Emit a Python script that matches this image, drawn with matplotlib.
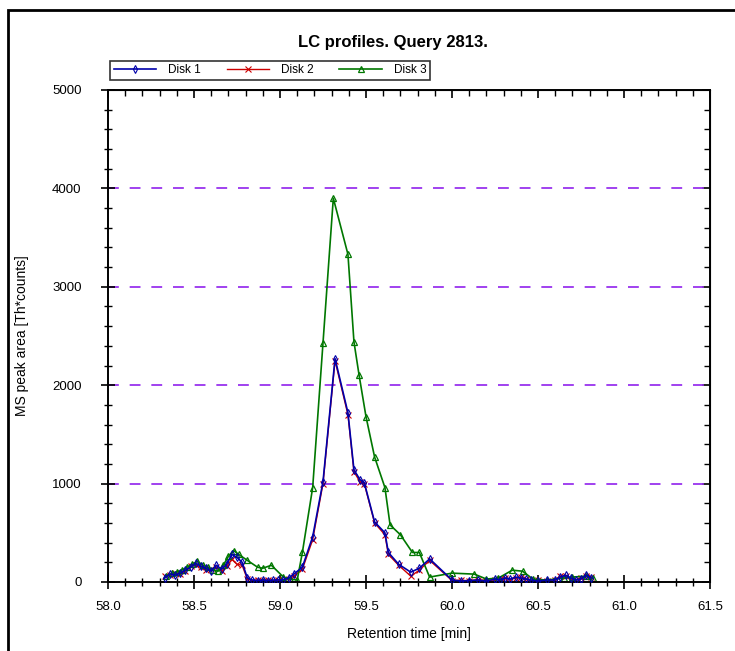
import matplotlib
matplotlib.use("Agg")
import matplotlib.pyplot as plt
from matplotlib.patches import Rectangle
from matplotlib.ticker import MultipleLocator, FormatStrFormatter

plt.rcParams['font.family'] = ['Liberation Sans', 'DejaVu Sans']

# Disk 1 (blue)
disk1_x = [58.33, 58.36, 58.39, 58.42, 58.45, 58.48, 58.51, 58.54, 58.57, 58.60,
           58.63, 58.66, 58.69, 58.72, 58.75, 58.78, 58.81, 58.84, 58.87, 58.90,
           58.93, 58.96, 58.99, 59.02, 59.05, 59.08, 59.13, 59.19, 59.25, 59.32,
           59.395, 59.43, 59.465, 59.49, 59.55, 59.61, 59.63, 59.69, 59.76, 59.81,
           59.87, 60.00, 60.05, 60.10, 60.15, 60.20, 60.25, 60.28, 60.31, 60.34,
           60.37, 60.40, 60.43, 60.46, 60.50, 60.55, 60.60, 60.63, 60.66, 60.69,
           60.72, 60.75, 60.78, 60.81]
disk1_y = [40, 80, 70, 90, 120, 150, 190, 160, 140, 110,
           170, 130, 180, 280, 250, 200, 40, 20, 15, 20,
           15, 20, 20, 25, 40, 80, 150, 460, 1020, 2270,
           1720, 1140, 1040, 1010, 610, 500, 300, 180, 100, 140,
           235, 20, 10, 15, 20, 10, 30, 20, 40, 30,
           50, 40, 30, 20, 10, 20, 20, 50, 70, 40,
           20, 30, 70, 40]

# Disk 2 (red)
disk2_x = disk1_x
disk2_y = [60, 70, 90, 80, 110, 160, 170, 150, 120, 130,
           150, 110, 160, 230, 180, 170, 30, 15, 20, 15,
           20, 15, 25, 20, 30, 60, 130, 430, 1000, 2250,
           1700, 1120, 1020, 1000, 600, 480, 280, 170, 60, 120,
           220, 15, 20, 10, 25, 15, 20, 30, 40, 25,
           40, 50, 30, 15, 20, 15, 25, 60, 60, 30,
           25, 40, 60, 50]

# Disk 3 (green)
disk3_x = [58.34, 58.37, 58.40, 58.43, 58.46, 58.49, 58.52, 58.55, 58.58, 58.61,
           58.64, 58.67, 58.70, 58.73, 58.76, 58.81, 58.87, 58.90, 58.95, 59.02,
           59.06, 59.10, 59.13, 59.19, 59.25, 59.31, 59.395, 59.43, 59.46, 59.50,
           59.55, 59.61, 59.64, 59.70, 59.77, 59.81, 59.87, 60.00, 60.13, 60.20,
           60.27, 60.35, 60.41, 60.47, 60.55, 60.65, 60.70, 60.78, 60.82]
disk3_y = [60, 90, 100, 120, 150, 180, 210, 170, 150, 120,
           110, 170, 260, 320, 280, 220, 150, 140, 170, 50,
           30, 20, 300, 960, 2430, 3900, 3330, 2440, 2100, 1680,
           1270, 960, 580, 480, 300, 300, 50, 90, 80, 30,
           40, 120, 110, 30, 20, 40, 50, 60, 40]

grid_levels = [1000, 2000, 3000, 4000]

fig = plt.figure(figsize=(7.35, 6.51), dpi=100)
fig.patch.set_facecolor('white')
ax = fig.add_axes([108 / 735, 1 - 582 / 651, 602 / 735, 492 / 651])

for g in grid_levels:
    ax.axhline(g, color='#9933ee', lw=1.3, dashes=(6, 6), zorder=1)

ax.plot(disk1_x, disk1_y, color='#0000aa', lw=1.2, marker='d', ms=4,
        mfc='none', mew=0.8, label='Disk 1', zorder=3)
ax.plot(disk2_x, disk2_y, color='#cc0000', lw=1.0, marker='x', ms=4,
        mew=0.8, label='Disk 2', zorder=2)
ax.plot(disk3_x, disk3_y, color='#007700', lw=1.2, marker='^', ms=4.5,
        mfc='none', mew=0.9, label='Disk 3', zorder=2)

ax.set_xlim(58.0, 61.5)
ax.set_ylim(0, 5000)
ax.xaxis.set_major_locator(MultipleLocator(0.5))
ax.xaxis.set_minor_locator(MultipleLocator(0.1))
ax.xaxis.set_major_formatter(FormatStrFormatter('%.1f'))
ax.yaxis.set_major_locator(MultipleLocator(1000))
ax.yaxis.set_minor_locator(MultipleLocator(200))
ax.tick_params(which='major', direction='inout', length=10, width=1.2,
               labelsize=9.5)
ax.tick_params(axis='x', which='major', pad=9)
ax.tick_params(axis='y', which='major', pad=14)
ax.tick_params(which='minor', direction='inout', length=6, width=1.0)
for sp in ax.spines.values():
    sp.set_linewidth(1.4)

top = ax.secondary_xaxis('top')
top.xaxis.set_major_locator(MultipleLocator(0.5))
top.xaxis.set_minor_locator(MultipleLocator(0.1))
top.tick_params(which='major', direction='in', length=6, width=1.2, labeltop=False)
top.tick_params(which='minor', direction='in', length=4, width=1.0)
right = ax.secondary_yaxis('right')
right.yaxis.set_major_locator(MultipleLocator(1000))
right.yaxis.set_minor_locator(MultipleLocator(200))
right.tick_params(which='major', direction='in', length=6, width=1.2, labelright=False)
right.tick_params(which='minor', direction='in', length=4, width=1.0)

ax.set_xlabel('Retention time [min]', fontsize=10, labelpad=10)
ax.set_ylabel('MS peak area [Th*counts]', fontsize=10, va='center')
ax.yaxis.set_label_coords((22 - 108) / 602, 0.5)

fig.text(393 / 735, 1 - 42 / 651, 'LC profiles. Query 2813.', ha='center',
         va='center', fontsize=12, fontweight='bold')

leg = ax.legend(loc='lower left', bbox_to_anchor=(110 / 735, 1 - 80 / 651),
                bbox_transform=fig.transFigure, ncol=3, fontsize=8.5,
                frameon=True, fancybox=False, edgecolor='black',
                borderpad=0.3, handlelength=3.6, columnspacing=2.2,
                handletextpad=1.0, borderaxespad=0)
leg.get_frame().set_linewidth(1.2)

fig.add_artist(Rectangle((8 / 735, -0.1), 1.2, (651 - 10) / 651 + 0.1,
                         transform=fig.transFigure, fill=False, lw=2,
                         edgecolor='black', clip_on=False))

fig.savefig('out.png', dpi=100)
